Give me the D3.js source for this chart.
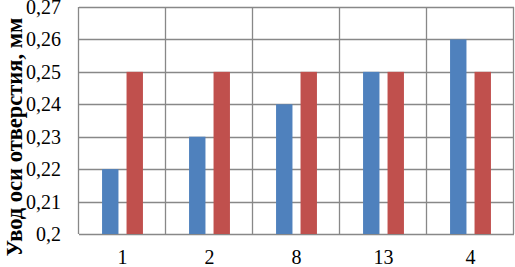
<!DOCTYPE html>
<html>
<head>
<meta charset="utf-8">
<script src="https://cdn.jsdelivr.net/npm/d3@7"></script>
<style>
  body { margin: 0; background: #fff; }
  svg text { font-family: "Liberation Serif", "Times New Roman", serif; }
</style>
</head>
<body>
<svg id="chart" width="515" height="267"></svg>
<script>
var categories = ['1', '2', '8', '13', '4'];
var seriesNames = ['a', 'b'];
var seriesA = [0.22, 0.23, 0.24, 0.25, 0.26];
var seriesB = [0.25, 0.25, 0.25, 0.25, 0.25];
var yTicks = [0.2, 0.21, 0.22, 0.23, 0.24, 0.25, 0.26, 0.27];
var colors = ['#4f81bd', '#c0504d'];

var svg = d3.select('#chart');
var plotLeft = 79, plotRight = 514, plotTop = 7, plotBottom = 234;

var x = d3.scaleBand().domain(categories).range([plotLeft, plotRight]);
var inner = d3.scaleBand().domain(seriesNames)
  .range([x.bandwidth() * 0.265, x.bandwidth() * 0.735])
  .paddingInner(0.33);
var y = d3.scaleLinear().domain([0.2, 0.27]).range([plotBottom, plotTop]);

var fmt = function(v) { return d3.format('.2~f')(v).replace('.', ','); };

// gridlines
svg.append('g').selectAll('line').data(yTicks).join('line')
  .attr('x1', plotLeft).attr('x2', plotRight)
  .attr('y1', function(d){ return Math.round(y(d)) + 0.5; })
  .attr('y2', function(d){ return Math.round(y(d)) + 0.5; })
  .attr('stroke', '#888').attr('stroke-width', 1.3);

var vlines = categories.map(function(c){ return x(c); }).concat([plotRight]);
svg.append('g').selectAll('line').data(vlines).join('line')
  .attr('x1', function(d){ return Math.round(d) - 0.5; })
  .attr('x2', function(d){ return Math.round(d) - 0.5; })
  .attr('y1', plotTop).attr('y2', plotBottom)
  .attr('stroke', '#888').attr('stroke-width', 1.3);

// bars
var rows = categories.map(function(c, i) {
  return { cat: c, vals: [seriesA[i], seriesB[i]] };
});
var groups = svg.append('g').selectAll('g').data(rows).join('g')
  .attr('transform', function(d){ return 'translate(' + x(d.cat) + ',0)'; });
groups.selectAll('rect')
  .data(function(d){ return d.vals.map(function(v, j){ return { s: seriesNames[j], v: v, j: j }; }); })
  .join('rect')
  .attr('x', function(d){ return inner(d.s); })
  .attr('width', inner.bandwidth())
  .attr('y', function(d){ return y(d.v); })
  .attr('height', function(d){ return y(0.2) - y(d.v); })
  .attr('fill', function(d){ return colors[d.j]; });

// y tick labels
svg.append('g').selectAll('text').data(yTicks).join('text')
  .attr('x', 61).attr('y', function(d){ return y(d) + 7; })
  .attr('text-anchor', 'end')
  .attr('font-size', 20)
  .text(fmt);

// x labels
svg.append('g').selectAll('text').data(categories).join('text')
  .attr('x', function(d){ return x(d) + x.bandwidth() / 2; })
  .attr('y', 264)
  .attr('text-anchor', 'middle')
  .attr('font-size', 20)
  .text(function(d){ return d; });

// axis title
svg.append('text')
  .attr('transform', 'translate(22,137) rotate(-90)')
  .attr('text-anchor', 'middle')
  .attr('font-size', 22.5)
  .attr('font-weight', 'bold')
  .text('Увод оси отверстия, мм');
</script>
</body>
</html>
